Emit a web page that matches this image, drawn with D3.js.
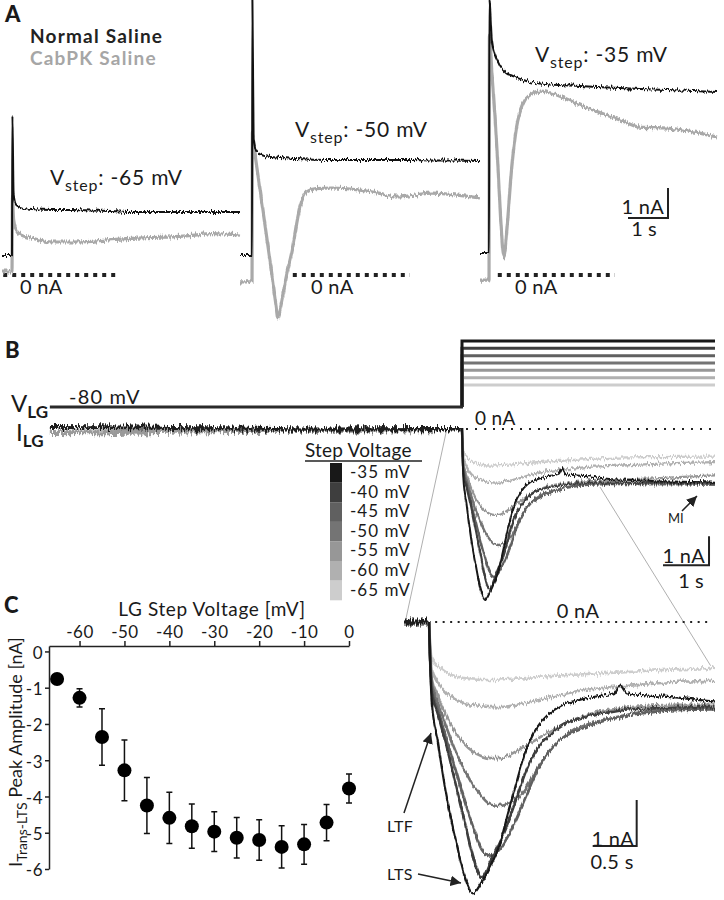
<!DOCTYPE html>
<html><head><meta charset="utf-8">
<script src="https://cdn.jsdelivr.net/npm/d3@7"></script>
<style>body{margin:0;background:#fff}svg{display:block}</style>
</head><body>
<script>
// ================= DATA =================
// Panel A: time (s, from step onset) and current (nA)
const aTime65   = [-0.25,-0.02,0,0.01,0.04,0.1,0.2,0.5,1,1.5,2,2.5,3,3.5,4,4.5,5,5.7];
const aNormal65 = [0.67,0.67,0.7,5.33,2.7,2.35,2.27,2.2,2.17,2.17,2.15,2.13,2.1,2.1,2.1,2.1,2.1,2.1];
const aCabPK65  = [0.1,0.1,0.1,2.6,1.85,1.5,1.35,1.23,1.1,1.1,1.12,1.18,1.22,1.25,1.27,1.32,1.38,1.33];

const aTime50   = [-0.3,-0.02,0,0.01,0.04,0.12,0.3,0.5,0.6,0.65,0.72,0.85,1.0,1.2,1.37,1.6,2.0,2.7,3.2,3.6,4.0,4.5,5.0,5.7];
const aNormal50 = [0.67,0.67,0.67,9.2,4.6,4.1,3.97,3.93,3.92,3.91,3.9,3.89,3.87,3.86,3.85,3.84,3.83,3.83,3.83,3.83,3.83,3.82,3.82,3.8];
const aCabPK50  = [-0.23,-0.23,-0.23,4.77,4.4,3.6,1.9,0.0,-1.0,-1.43,-1.05,-0.1,0.8,2.27,2.77,2.88,2.9,2.83,2.72,2.6,2.65,2.73,2.68,2.57];

const aTime35   = [-0.225,-0.02,0,0.01,0.07,0.15,0.225,0.29,0.375,0.44,0.57,0.69,0.86,1.025,1.275,1.525,2.275,3.275,3.775,4.45,5.1,5.7];
const aNormal35 = [0.73,0.73,0.73,9.2,7.83,7.33,7.1,6.93,6.8,6.72,6.65,6.58,6.5,6.43,6.38,6.35,6.3,6.23,6.2,6.17,6.13,6.1];
const aCabPK35  = [-0.17,-0.17,-0.17,8.0,6.8,5.27,3.6,1.93,0.57,1.4,3.6,4.93,5.73,6.0,6.13,6.07,5.67,5.17,4.93,4.9,4.77,4.6];

const aStepLabels = ["-65 mV","-50 mV","-35 mV"];
const aZeroSpan = [[-0.22,2.7],[1.02,3.95],[0.22,3.15]];

// Panel B: step voltages and LG currents
const stepVoltages = [-35,-40,-45,-50,-55,-60,-65];
const holdVoltage = -80;
const stepColors = ["#181818","#3e3e3e","#606060","#747474","#979797","#b0b0b0","#cdcdcd"];
const bPreTime  = [-8.96,-8,-7,-6,-5,-4,-3,-2,-1,-0.5,0];
const bPreDark  = [0.07,0.06,0.05,0.03,0.02,0.0,-0.02,-0.01,0.0,0.0,0.0];
const bPreLight = [-0.12,-0.13,-0.1,-0.07,-0.05,-0.05,-0.05,-0.04,-0.03,-0.02,-0.02];
const bTime = [0,0.03,0.1,0.2,0.3,0.4,0.5,0.6,0.7,0.8,0.9,1.0,1.1,1.2,1.35,1.5,1.7,1.9,2.1,2.17,2.25,2.5,2.8,3.2,3.6,4.2,4.8,5.5];
const cur35 = [0,-1.7,-2.6,-3.8,-4.7,-5.5,-5.9,-5.65,-5.3,-4.85,-4.15,-3.45,-2.8,-2.38,-2.02,-1.82,-1.7,-1.62,-1.55,-1.38,-1.55,-1.6,-1.64,-1.72,-1.75,-1.8,-1.82,-1.85];
const cur40 = [0,-1.5,-2.0,-2.7,-3.5,-4.3,-5.1,-5.55,-5.2,-4.8,-4.35,-3.8,-3.25,-2.85,-2.5,-2.25,-2.1,-2.0,-1.95,-1.93,-1.9,-1.88,-1.86,-1.85,-1.85,-1.85,-1.86,-1.87];
const cur45 = [0,-1.4,-1.9,-2.55,-3.2,-3.85,-4.45,-4.95,-5.1,-4.95,-4.65,-4.25,-3.8,-3.35,-2.85,-2.55,-2.35,-2.2,-2.1,-2.07,-2.03,-1.97,-1.92,-1.9,-1.9,-1.9,-1.9,-1.92];
const cur50 = [0,-1.3,-1.75,-2.3,-2.8,-3.2,-3.55,-3.8,-3.97,-4.0,-3.95,-3.85,-3.62,-3.3,-2.85,-2.55,-2.3,-2.17,-2.08,-2.05,-2.02,-1.93,-1.9,-1.88,-1.88,-1.9,-1.9,-1.92];
const cur55 = [0,-1.2,-1.6,-2.05,-2.4,-2.65,-2.82,-2.92,-2.96,-2.96,-2.9,-2.8,-2.68,-2.58,-2.4,-2.25,-2.08,-1.96,-1.9,-1.88,-1.86,-1.82,-1.8,-1.8,-1.75,-1.7,-1.65,-1.6];
const cur60 = [0,-1.0,-1.3,-1.55,-1.68,-1.76,-1.8,-1.83,-1.85,-1.85,-1.83,-1.8,-1.76,-1.72,-1.65,-1.58,-1.5,-1.45,-1.41,-1.4,-1.39,-1.35,-1.3,-1.28,-1.25,-1.2,-1.17,-1.14];
const cur65 = [0,-0.8,-0.95,-1.1,-1.18,-1.22,-1.25,-1.26,-1.26,-1.25,-1.24,-1.23,-1.22,-1.2,-1.18,-1.16,-1.14,-1.12,-1.1,-1.1,-1.09,-1.06,-1.03,-1.0,-0.98,-0.97,-0.96,-0.95];
const currents = [cur35,cur40,cur45,cur50,cur55,cur60,cur65];
const bStepEnd = 5.5;
const insetEnd = 3.25;
const zoomFromB = [[-0.33,0],[3.0,-2.0]];
const zoomToInset = [[-0.27,0],[3.2,-0.95]];

// Panel C
const cVoltage = [-65,-60,-55,-50,-45,-40,-35,-30,-25,-20,-15,-10,-5,0];
const cPeak    = [-0.76,-1.28,-2.36,-3.28,-4.25,-4.59,-4.82,-4.97,-5.14,-5.2,-5.39,-5.32,-4.72,-3.78];
const cSEM     = [0.08,0.25,0.78,0.84,0.77,0.71,0.61,0.55,0.56,0.56,0.58,0.55,0.5,0.4];
const cXTicks  = [-60,-50,-40,-30,-20,-10,0];
const cYTicks  = [0,-1,-2,-3,-4,-5,-6];

// ================= DRAW =================
const W = 724, H = 900;
const svg = d3.select("body").append("svg").attr("width", W).attr("height", H)
  .style("font-family", "Lato, 'DejaVu Sans', sans-serif").attr("fill", "#1a1a1a");
const defs = svg.append("defs");
function noiseFilter(id, scale, fy) {
  const f = defs.append("filter").attr("id",id).attr("filterUnits","userSpaceOnUse")
    .attr("x",0).attr("y",0).attr("width",W).attr("height",H).attr("color-interpolation-filters","sRGB");
  f.append("feTurbulence").attr("type","fractalNoise").attr("baseFrequency",`0.7 ${fy}`).attr("numOctaves",2).attr("seed",3).attr("result","t");
  f.append("feColorMatrix").attr("in","t").attr("type","matrix")
    .attr("values","0 0 0 0 0.5  0 1 0 0 0  0 0 0 0 0  0 0 0 0 1").attr("result","n");
  f.append("feDisplacementMap").attr("in","SourceGraphic").attr("in2","n").attr("scale",scale)
    .attr("xChannelSelector","R").attr("yChannelSelector","G");
}
noiseFilter("noisy", 7, 0.08);
noiseFilter("noisyBig", 12, 0.1);
defs.append("marker").attr("id","arr").attr("viewBox","0 0 10 10").attr("refX",10).attr("refY",5)
  .attr("markerWidth",7).attr("markerHeight",7).attr("orient","auto-start-reverse")
  .append("path").attr("d","M0,0 L10,5 L0,10 z").attr("fill","#222");

function trace(g, xs, ys, times, vals, color, width, filt) {
  return g.append("path").datum(d3.zip(times, vals))
    .attr("d", d3.line().x(d => xs(d[0])).y(d => ys(d[1])).curve(d3.curveMonotoneX))
    .attr("fill","none").attr("stroke",color).attr("stroke-width",width)
    .attr("stroke-linejoin","round").attr("filter", filt ? `url(#${filt})` : null);
}
function txt(g, x, y, size, s, ls) {
  return g.append("text").attr("x",x).attr("y",y).attr("font-size",size)
    .attr("letter-spacing", ls || 0).text(s);
}
function vlabel(g, x, y, sub, rest, size) {
  const t = g.append("text").attr("x",x).attr("y",y).attr("font-size",size).attr("letter-spacing",0.8);
  t.append("tspan").text("V");
  t.append("tspan").attr("dy",6).attr("font-size",size*0.76).text(sub);
  t.append("tspan").attr("dy",-6).text(rest);
  return t;
}

// ---------- Panel A ----------
svg.append("text").attr("x",5).attr("y",22).attr("font-size",22).attr("font-weight","900").text("A");
txt(svg,30,43,19,"Normal Saline",1.2).attr("font-weight","bold").attr("fill","#222");
txt(svg,30,65,19,"CabPK Saline",1.2).attr("font-weight","bold").attr("fill","#a6a6a6");

const aSets = [[aTime65,aNormal65,aCabPK65],[aTime50,aNormal50,aCabPK50],[aTime35,aNormal35,aCabPK35]];
const aLayout = [{step:12, lx:50, ly:185, zx:20},{step:252, lx:295, ly:137, zx:311},{step:489, lx:535, ly:62, zx:515}];
const yA = d3.scaleLinear().domain([0,1]).range([275,245]);
aSets.forEach((s,i) => {
  const L = aLayout[i];
  const xA = d3.scaleLinear().domain([0,1]).range([L.step, L.step+40]);
  const g = svg.append("g");
  g.append("line").attr("x1",xA(aZeroSpan[i][0])).attr("x2",xA(aZeroSpan[i][1]))
    .attr("y1",yA(0)).attr("y2",yA(0)).attr("stroke","#222").attr("stroke-width",4).attr("stroke-dasharray","4,5");
  txt(g, L.zx, 294, 20, "0 nA", 0.3);
  trace(g, xA, yA, s[0], s[2], "#a9a9a9", 3.2, "noisy");
  trace(g, xA, yA, s[0], s[1], "#111", 2, "noisy");
  vlabel(g, L.lx, L.ly, "step", ": " + aStepLabels[i], 21);
});
// Panel A scale bar
{
  const xA = d3.scaleLinear().domain([0,1]).range([628,668]);
  const yS = d3.scaleLinear().domain([0,1]).range([218,188]);
  svg.append("path").attr("d",`M${xA(0)},${yS(0)}H${xA(1)}V${yS(1)}`).attr("fill","none").attr("stroke","#222").attr("stroke-width",2);
  txt(svg,664,214,20,"1 nA",0.3).attr("text-anchor","end");
  txt(svg,644,236,20,"1 s").attr("text-anchor","middle");
}

// ---------- Panel B ----------
svg.append("text").attr("x",5).attr("y",358).attr("font-size",22).attr("font-weight","900").text("B");
const xB = d3.scaleLinear().domain([0,1]).range([462,508]);
const yB = d3.scaleLinear().domain([0,-1]).range([429,458]);
const vB = d3.scaleLinear().domain([-80,-35]).range([407,341]);
const gB = svg.append("g");
for (let i = stepVoltages.length-1; i >= 0; i--) {
  gB.append("path").attr("d",`M${xB(0)},${vB(holdVoltage)}V${vB(stepVoltages[i])}H${xB(bStepEnd)}`)
    .attr("fill","none").attr("stroke",stepColors[i]).attr("stroke-width",3);
}
gB.append("line").attr("x1",xB(bPreTime[0])).attr("x2",xB(0)+1).attr("y1",vB(holdVoltage)).attr("y2",vB(holdVoltage))
  .attr("stroke","#2a2a2a").attr("stroke-width",3);
const vl = gB.append("text").attr("x",11).attr("y",412).attr("font-size",24);
vl.append("tspan").text("V"); vl.append("tspan").attr("dy",6).attr("font-size",17).attr("font-weight","bold").text("LG");
const il = gB.append("text").attr("x",16).attr("y",441).attr("font-size",24);
il.append("tspan").text("I"); il.append("tspan").attr("dy",6).attr("font-size",17).attr("font-weight","bold").text("LG");
txt(gB,69,404,20,"-80 mV",1.2);
gB.append("line").attr("x1",xB(0)+4).attr("x2",xB(bStepEnd)).attr("y1",yB(0)).attr("y2",yB(0))
  .attr("stroke","#222").attr("stroke-width",2).attr("stroke-dasharray","2,7");
txt(gB,475,425,19,"0 nA",0.3);
[0,1].forEach(k => {
  gB.append("line").attr("x1",xB(zoomFromB[k][0])).attr("y1",yB(zoomFromB[k][1]))
    .attr("x2",429 + zoomToInset[k][0]*88).attr("y2",622 - zoomToInset[k][1]*46)
    .attr("stroke","#9a9a9a").attr("stroke-width",0.8);
});
trace(gB, xB, yB, bPreTime, bPreLight, "#9a9a9a", 5, "noisyBig");
trace(gB, xB, yB, bPreTime, bPreDark, "#1e1e1e", 4, "noisyBig");
for (let i = currents.length-1; i >= 0; i--) {
  trace(gB, xB, yB, bTime, currents[i], stepColors[i], i===0 ? 2 : 2.3, "noisy");
}
txt(gB,668,523,13,"MI");
gB.append("line").attr("x1",682).attr("y1",511).attr("x2",697).attr("y2",496)
  .attr("stroke","#222").attr("stroke-width",1.5).attr("marker-end","url(#arr)");
gB.append("path").attr("d",`M${xB(4.37)},${yB(-4.7)}H${xB(5.37)}V${yB(-3.7)}`).attr("fill","none").attr("stroke","#222").attr("stroke-width",2);
txt(gB,705,563,20,"1 nA",0.3).attr("text-anchor","end");
txt(gB,691,588,20,"1 s").attr("text-anchor","middle");
txt(gB,305,457,19,"Step Voltage",0.2);
gB.append("line").attr("x1",305).attr("x2",422).attr("y1",461).attr("y2",461).attr("stroke","#222").attr("stroke-width",1.5);
stepVoltages.forEach((v,i) => {
  gB.append("rect").attr("x",330).attr("y",463 + i*19.6).attr("width",12).attr("height",19.7).attr("fill",stepColors[i]);
  txt(gB,350,478 + i*19.6,17,v + " mV",1);
});

// ---------- Inset (expanded traces) ----------
const xI = d3.scaleLinear().domain([0,1]).range([429,517]);
const yI = d3.scaleLinear().domain([0,-1]).range([622,668]);
defs.append("clipPath").attr("id","insetClip").append("rect").attr("x",404).attr("y",590).attr("width",xI(insetEnd)-404).attr("height",310);
const gI = svg.append("g");
gI.append("line").attr("x1",xI(0.07)).attr("x2",xI(3.22)).attr("y1",yI(0)).attr("y2",yI(0))
  .attr("stroke","#222").attr("stroke-width",2).attr("stroke-dasharray","2,5.5");
txt(gI,578,618,20,"0 nA",0.3).attr("text-anchor","middle");
const gIc = gI.append("g").attr("clip-path","url(#insetClip)");
trace(gIc, xI, yI, bPreTime, bPreLight, "#9a9a9a", 6, "noisyBig");
trace(gIc, xI, yI, bPreTime, bPreDark, "#1e1e1e", 5, "noisyBig");
for (let i = currents.length-1; i >= 0; i--) {
  trace(gIc, xI, yI, bTime, currents[i], stepColors[i], i===0 ? 2.2 : 2.6, "noisy");
}
txt(gI,387,832,16,"LTF",0.3);
gI.append("line").attr("x1",404).attr("y1",813).attr("x2",431).attr("y2",733)
  .attr("stroke","#222").attr("stroke-width",1.5).attr("marker-end","url(#arr)");
txt(gI,387,880,16,"LTS",0.3);
gI.append("line").attr("x1",418).attr("y1",874).attr("x2",461).attr("y2",883)
  .attr("stroke","#222").attr("stroke-width",1.5).attr("marker-end","url(#arr)");
gI.append("path").attr("d",`M${xI(1.86)},${yI(-4.87)}H${xI(2.36)}V${yI(-3.87)}`).attr("fill","none").attr("stroke","#222").attr("stroke-width",2);
txt(gI,634,846,20,"1 nA",0.3).attr("text-anchor","end");
txt(gI,612,869,20,"0.5 s",0.3).attr("text-anchor","middle");

// ---------- Panel C ----------
svg.append("text").attr("x",4).attr("y",613).attr("font-size",22).attr("font-weight","900").text("C");
const xC = d3.scaleLinear().domain([-66.8,0]).range([49,349]);
const yC = d3.scaleLinear().domain([0.15,-6]).range([646,869]);
const gC = svg.append("g");
const fmt = d => String(d);
const axT = gC.append("g").attr("transform",`translate(0,${yC.range()[0]})`)
  .call(d3.axisTop(xC).tickValues(cXTicks).tickSize(5).tickSizeOuter(0).tickPadding(3).tickFormat(fmt));
const axL = gC.append("g").attr("transform",`translate(${xC.range()[0]},0)`)
  .call(d3.axisLeft(yC).tickValues(cYTicks).tickSize(4).tickSizeOuter(0).tickPadding(2).tickFormat(fmt));
[axT, axL].forEach(a => {
  a.selectAll("text").attr("font-size",17).attr("fill","#1a1a1a").attr("letter-spacing",0.5).style("font-family","Lato, sans-serif");
  a.selectAll("line,path").attr("stroke","#222").attr("stroke-width",1.5);
});
axL.selectAll("text").attr("dy","0.4em");
txt(gC,212,616,19,"LG Step Voltage [mV]",0.6).attr("text-anchor","middle");
const yl = gC.append("text").attr("transform","translate(22,752) rotate(-90)").attr("text-anchor","middle").attr("font-size",18);
yl.append("tspan").text("I");
yl.append("tspan").attr("dy",5).attr("font-size",14).text("Trans-LTS");
yl.append("tspan").attr("dy",-5).text(" Peak Amplitude [nA]");
cVoltage.forEach((v,i) => {
  const x = xC(v), y1 = yC(cPeak[i]+cSEM[i]), y2 = yC(cPeak[i]-cSEM[i]);
  gC.append("path").attr("d",`M${x},${y1}V${y2}M${x-3},${y1}H${x+3}M${x-3},${y2}H${x+3}`)
    .attr("stroke","#111").attr("stroke-width",1.5).attr("fill","none");
});
gC.selectAll("circle.pt").data(cVoltage).enter().append("circle")
  .attr("cx",d => xC(d)).attr("cy",(d,i) => yC(cPeak[i])).attr("r",7).attr("fill","#000");
</script>
</body></html>
